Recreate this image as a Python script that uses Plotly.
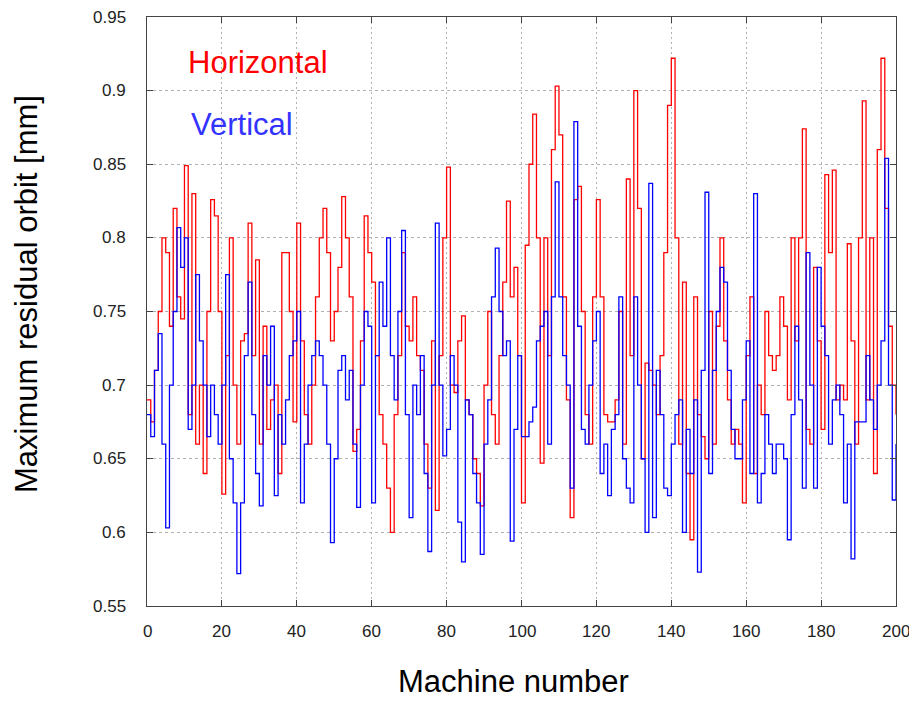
import plotly.graph_objects as go

machine = list(range(201))

horizontal = [
    0.69, 0.675, 0.71, 0.75, 0.80, 0.79, 0.74, 0.82, 0.76, 0.745,
    0.849, 0.68, 0.83, 0.66, 0.70, 0.64, 0.75, 0.826, 0.815, 0.75,
    0.626, 0.72, 0.80, 0.70, 0.66, 0.73, 0.735, 0.81, 0.72, 0.785,
    0.66, 0.74, 0.67, 0.69, 0.70, 0.64, 0.79, 0.79, 0.75, 0.675,
    0.81, 0.73, 0.68, 0.66, 0.70, 0.76, 0.80, 0.82, 0.79, 0.73,
    0.75, 0.78, 0.828, 0.80, 0.76, 0.655, 0.67, 0.73, 0.815, 0.79,
    0.77, 0.72, 0.68, 0.66, 0.63, 0.60, 0.68, 0.72, 0.79, 0.74,
    0.73, 0.76, 0.72, 0.71, 0.66, 0.63, 0.73, 0.615, 0.72, 0.80,
    0.848, 0.70, 0.695, 0.73, 0.747, 0.69, 0.68, 0.65, 0.64, 0.618,
    0.70, 0.75, 0.68, 0.66, 0.72, 0.77, 0.825, 0.76, 0.78, 0.72,
    0.62, 0.795, 0.85, 0.884, 0.80, 0.647, 0.80, 0.72, 0.86, 0.903,
    0.87, 0.76, 0.69, 0.61, 0.826, 0.835, 0.75, 0.68, 0.66, 0.76,
    0.826, 0.76, 0.68, 0.675, 0.675, 0.69, 0.75, 0.66, 0.84, 0.72,
    0.90, 0.82, 0.65, 0.715, 0.71, 0.70, 0.68, 0.72, 0.79, 0.89,
    0.922, 0.80, 0.66, 0.77, 0.64, 0.595, 0.76, 0.68, 0.665, 0.65,
    0.75, 0.66, 0.74, 0.80, 0.73, 0.69, 0.66, 0.67, 0.66, 0.62,
    0.72, 0.76, 0.64, 0.70, 0.68, 0.75, 0.72, 0.71, 0.72, 0.76,
    0.74, 0.69, 0.80, 0.73, 0.80, 0.874, 0.67, 0.66, 0.78, 0.73,
    0.67, 0.843, 0.79, 0.846, 0.69, 0.70, 0.69, 0.796, 0.73, 0.66,
    0.80, 0.893, 0.69, 0.80, 0.64, 0.86, 0.922, 0.82, 0.74, 0.70,
    0.68,
]

vertical = [
    0.68, 0.665, 0.71, 0.735, 0.66, 0.603, 0.70, 0.75, 0.807, 0.78,
    0.80, 0.67, 0.70, 0.775, 0.73, 0.70, 0.665, 0.70, 0.68, 0.66,
    0.70, 0.775, 0.65, 0.62, 0.572, 0.62, 0.72, 0.77, 0.68, 0.64,
    0.618, 0.72, 0.70, 0.74, 0.625, 0.68, 0.66, 0.69, 0.72, 0.73,
    0.75, 0.62, 0.66, 0.70, 0.72, 0.73, 0.72, 0.70, 0.66, 0.593,
    0.65, 0.71, 0.72, 0.69, 0.71, 0.66, 0.617, 0.70, 0.75, 0.74,
    0.62, 0.72, 0.77, 0.74, 0.80, 0.72, 0.69, 0.75, 0.805, 0.68,
    0.61, 0.70, 0.68, 0.72, 0.64, 0.587, 0.70, 0.81, 0.70, 0.652,
    0.67, 0.72, 0.70, 0.607, 0.58, 0.69, 0.68, 0.64, 0.62, 0.585,
    0.66, 0.69, 0.76, 0.793, 0.75, 0.72, 0.73, 0.594, 0.67, 0.72,
    0.665, 0.665, 0.675, 0.685, 0.73, 0.74, 0.75, 0.66, 0.76, 0.838,
    0.76, 0.72, 0.70, 0.63, 0.879, 0.74, 0.67, 0.66, 0.70, 0.73,
    0.75, 0.64, 0.66, 0.625, 0.67, 0.68, 0.76, 0.65, 0.63, 0.62,
    0.76, 0.70, 0.65, 0.60, 0.837, 0.61, 0.71, 0.68, 0.63, 0.625,
    0.66, 0.68, 0.69, 0.60, 0.67, 0.64, 0.69, 0.573, 0.71, 0.831,
    0.64, 0.71, 0.75, 0.78, 0.77, 0.71, 0.67, 0.65, 0.65, 0.69,
    0.73, 0.64, 0.83, 0.62, 0.64, 0.68, 0.66, 0.64, 0.66, 0.66,
    0.65, 0.595, 0.68, 0.74, 0.69, 0.63, 0.79, 0.70, 0.63, 0.78,
    0.74, 0.72, 0.66, 0.69, 0.70, 0.68, 0.62, 0.66, 0.582, 0.675,
    0.675, 0.675, 0.72, 0.69, 0.67, 0.70, 0.73, 0.854, 0.70, 0.622,
    0.66,
]

x_ticks = [0, 20, 40, 60, 80, 100, 120, 140, 160, 180, 200]
y_ticks = [0.55, 0.6, 0.65, 0.7, 0.75, 0.8, 0.85, 0.9, 0.95]
y_tick_labels = ["0.55", "0.6", "0.65", "0.7", "0.75", "0.8", "0.85", "0.9", "0.95"]

fig = go.Figure()
fig.add_trace(go.Scatter(x=machine, y=horizontal, mode="lines", line_shape="hv",
                         line=dict(color="#ff0000", width=1.3), name="Horizontal"))
fig.add_trace(go.Scatter(x=machine, y=vertical, mode="lines", line_shape="hv",
                         line=dict(color="#0000ff", width=1.3), name="Vertical"))

font = "Liberation Sans, Arial, sans-serif"
tick_font = dict(family=font, size=17, color="#222222")
axis_common = dict(showline=True, linecolor="#444444", linewidth=1, mirror="ticks",
                   ticks="inside", ticklen=6, tickcolor="#444444",
                   showgrid=True, gridcolor="#b0b0b0", gridwidth=1,
                   zeroline=False, showticklabels=False)

annotations = []
# tick labels placed as annotations so they sit off the axis like the reference
for t in x_ticks:
    annotations.append(dict(text=str(t), x=t, xref="x", y=-0.044, yref="paper",
                            xanchor="center", yanchor="middle", showarrow=False,
                            font=tick_font))
for v, lab in zip(y_ticks, y_tick_labels):
    annotations.append(dict(text=lab, x=-0.025, xref="paper", y=v, yref="y",
                            xanchor="right", yanchor="middle", showarrow=False,
                            font=tick_font))

annotations += [
    dict(text="Horizontal", x=0.052, y=0.922, xref="paper", yref="paper",
         xanchor="left", yanchor="middle", showarrow=False,
         font=dict(family=font, size=31, color="#ff0000")),
    dict(text="Vertical", x=0.056, y=0.818, xref="paper", yref="paper",
         xanchor="left", yanchor="middle", showarrow=False,
         font=dict(family=font, size=31, color="#3333ff")),
    dict(text="Maximum residual orbit [mm]", x=-0.160, y=0.53, xref="paper", yref="paper",
         xanchor="center", yanchor="middle", showarrow=False, textangle=-90,
         font=dict(family=font, size=31, color="#000000")),
    dict(text="Machine number", x=0.489, y=-0.128, xref="paper", yref="paper",
         xanchor="center", yanchor="middle", showarrow=False,
         font=dict(family=font, size=31, color="#000000")),
]

# The page body has an 8px margin; size the figure so the plot area lands
# at the same absolute pixels as the reference (147..896 x 17..606).
fig.update_layout(
    width=901, height=691,
    margin=dict(l=139, r=13, t=9, b=93),
    paper_bgcolor="white", plot_bgcolor="white",
    showlegend=False,
    xaxis=dict(range=[0, 200], tickvals=x_ticks, griddash="2px,3px", **axis_common),
    yaxis=dict(range=[0.55, 0.95], tickvals=y_ticks, griddash="3px,3px", **axis_common),
    annotations=annotations,
)

fig.write_html("out.html")
